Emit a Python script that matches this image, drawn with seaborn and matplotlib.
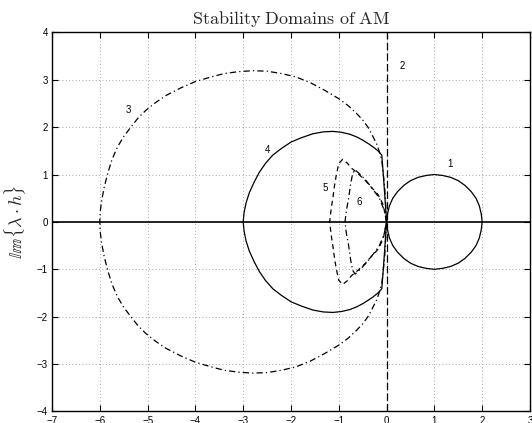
import pandas as pd
import matplotlib
matplotlib.use("Agg")
import matplotlib.pyplot as plt
import seaborn as sns

c1_x = [2.00, 1.98, 1.94, 1.87, 1.77, 1.64, 1.50, 1.34, 1.17, 1.00, 0.83, 0.66, 0.50,
        0.36, 0.23, 0.13, 0.06, 0.02, 0.00,
        0.02, 0.06, 0.13, 0.23, 0.36, 0.50, 0.66, 0.83, 1.00, 1.17, 1.34, 1.50, 1.64,
        1.77, 1.87, 1.94, 1.98, 2.00]
c1_y = [0.00, 0.17, 0.34, 0.50, 0.64, 0.77, 0.87, 0.94, 0.98, 1.00, 0.98, 0.94, 0.87,
        0.77, 0.64, 0.50, 0.34, 0.17, 0.00,
        -0.17, -0.34, -0.50, -0.64, -0.77, -0.87, -0.94, -0.98, -1.00, -0.98, -0.94, -0.87, -0.77,
        -0.64, -0.50, -0.34, -0.17, 0.00]

c2_x = [0.00, 0.00]
c2_y = [-4.00, 4.00]

c3_x = [0.00, -0.02, -0.04, -0.07, -0.10, -0.15, -0.21, -0.30, -0.39, -0.50, -0.63, -0.80,
        -1.00, -1.30, -1.60, -1.90, -2.20, -2.50, -2.80, -3.10, -3.40, -3.70, -4.00, -4.30,
        -4.61, -4.83, -5.03, -5.20, -5.35, -5.50, -5.63, -5.75, -5.84, -5.91, -5.96, -5.99, -6.00,
        -5.99, -5.96, -5.91, -5.84, -5.75, -5.63, -5.50, -5.35, -5.20, -5.03, -4.83, -4.61,
        -4.30, -4.00, -3.70, -3.40, -3.10, -2.80, -2.50, -2.20, -1.90, -1.60, -1.30, -1.00,
        -0.80, -0.63, -0.50, -0.39, -0.30, -0.21, -0.15, -0.10, -0.07, -0.04, -0.02, 0.00]
c3_y = [0.00, 0.37, 0.74, 1.02, 1.30, 1.48, 1.65, 1.83, 2.00, 2.15, 2.29, 2.45,
        2.60, 2.78, 2.94, 3.06, 3.13, 3.18, 3.19, 3.17, 3.13, 3.05, 2.96, 2.83,
        2.67, 2.52, 2.36, 2.19, 2.00, 1.80, 1.58, 1.30, 1.00, 0.72, 0.45, 0.22, 0.00,
        -0.22, -0.45, -0.72, -1.00, -1.30, -1.58, -1.80, -2.00, -2.19, -2.36, -2.52, -2.67,
        -2.83, -2.96, -3.05, -3.13, -3.17, -3.19, -3.18, -3.13, -3.06, -2.94, -2.78, -2.60,
        -2.45, -2.29, -2.15, -2.00, -1.83, -1.65, -1.48, -1.30, -1.02, -0.74, -0.37, 0.00]

c4_x = [0.00, -0.03, -0.06, -0.08, -0.10, -0.18, -0.28, -0.38, -0.49, -0.62, -0.77, -0.94,
        -1.12, -1.32, -1.54, -1.77, -1.99, -2.20, -2.38, -2.53, -2.66, -2.77, -2.87, -2.94,
        -2.98, -3.00,
        -2.98, -2.94, -2.87, -2.77, -2.66, -2.53, -2.38, -2.20, -1.99, -1.77, -1.54, -1.32,
        -1.12, -0.94, -0.77, -0.62, -0.49, -0.38, -0.28, -0.18, -0.10, -0.08, -0.06, -0.03, 0.00]
c4_y = [0.00, 0.45, 0.88, 1.15, 1.41, 1.50, 1.58, 1.65, 1.72, 1.79, 1.85, 1.89,
        1.91, 1.90, 1.86, 1.78, 1.69, 1.55, 1.41, 1.24, 1.05, 0.84, 0.62, 0.40,
        0.20, 0.00,
        -0.20, -0.40, -0.62, -0.84, -1.05, -1.24, -1.41, -1.55, -1.69, -1.78, -1.86, -1.90,
        -1.91, -1.89, -1.85, -1.79, -1.72, -1.65, -1.58, -1.50, -1.41, -1.15, -0.88, -0.45, 0.00]

c5_x = [0.00, -0.07, -0.18, -0.31, -0.45, -0.63, -0.73, -0.82, -0.92, -1.00, -1.05, -1.09,
        -1.12, -1.16, -1.19,
        -1.16, -1.12, -1.09, -1.05, -1.00, -0.92, -0.82, -0.73, -0.63, -0.45, -0.31, -0.18,
        -0.07, 0.00]
c5_y = [0.00, 0.36, 0.58, 0.72, 0.88, 1.05, 1.13, 1.24, 1.32, 1.23, 1.00, 0.76,
        0.53, 0.27, 0.00,
        -0.27, -0.53, -0.76, -1.00, -1.23, -1.32, -1.24, -1.13, -1.05, -0.88, -0.72, -0.58,
        -0.36, 0.00]

c6_x = [0.00, -0.05, -0.15, -0.28, -0.42, -0.55, -0.66, -0.71, -0.75, -0.80, -0.84, -0.87,
        -0.84, -0.80, -0.75, -0.71, -0.66, -0.55, -0.42, -0.28, -0.15, -0.05, 0.00]
c6_y = [0.00, 0.25, 0.50, 0.68, 0.86, 1.00, 1.10, 1.02, 0.81, 0.46, 0.25, 0.00,
        -0.25, -0.46, -0.81, -1.02, -1.10, -1.00, -0.86, -0.68, -0.50, -0.25, 0.00]

label_text = ["1", "2", "3", "4", "5", "6"]
label_x = [1.27, 0.27, -5.45, -2.55, -1.33, -0.63]
label_y = [1.22, 3.28, 2.36, 1.52, 0.72, 0.41]

xticks = list(range(-7, 4))
yticks = list(range(-4, 5))

curves = [("1", c1_x, c1_y, "-"),
          ("2", c2_x, c2_y, (0, (6, 2.5))),
          ("3", c3_x, c3_y, (0, (5, 2.5, 1, 2.5))),
          ("4", c4_x, c4_y, "-"),
          ("5", c5_x, c5_y, (0, (4, 3))),
          ("6", c6_x, c6_y, (0, (5, 2.5, 1, 2.5)))]

sns.set_theme(style="white")
plt.rcParams["mathtext.fontset"] = "cm"
plt.rcParams["font.family"] = ["Liberation Sans", "DejaVu Sans"]

fig = plt.figure(figsize=(5.32, 4.23), dpi=100)
ax = fig.add_axes([0.0977, 0.0272, 0.8985, 0.8964])

for name, xs, ys, ls in curves:
    d = pd.DataFrame({"re": xs, "im": ys})
    sns.lineplot(data=d, x="re", y="im", sort=False, estimator=None,
                 color="black", linewidth=0.9, linestyle=ls, ax=ax)
ax.axhline(0, color="black", linewidth=1.2)

for t, x, y in zip(label_text, label_x, label_y):
    ax.text(x, y, t, fontsize=7, ha="left", va="center", color="black")

ax.set_xlim(-7, 3)
ax.set_ylim(-4, 4)
ax.set_xticks(xticks)
ax.set_yticks(yticks)
ax.set_xticklabels([f"\u2212{abs(v)}" if v < 0 else str(v) for v in xticks])
ax.set_yticklabels([f"\u2212{abs(v)}" if v < 0 else str(v) for v in yticks])
ax.grid(True, linestyle=(0, (1, 3)), color="#888888", linewidth=0.6)
ax.tick_params(direction="in", length=4, width=0.8, labelsize=7, colors="black",
               top=True, right=True, bottom=True, left=True, pad=3)
for s in ax.spines.values():
    s.set_color("black")
    s.set_linewidth(1.0)
ax.set_xlabel("")
ax.set_ylabel(r"$\mathbb{Im}\{\lambda\cdot h\}$", fontsize=13, labelpad=6)
ax.set_title(r"$\mathrm{Stability\ Domains\ of\ AM}$", fontsize=13, pad=6)

fig.savefig("out.png", dpi=100)
